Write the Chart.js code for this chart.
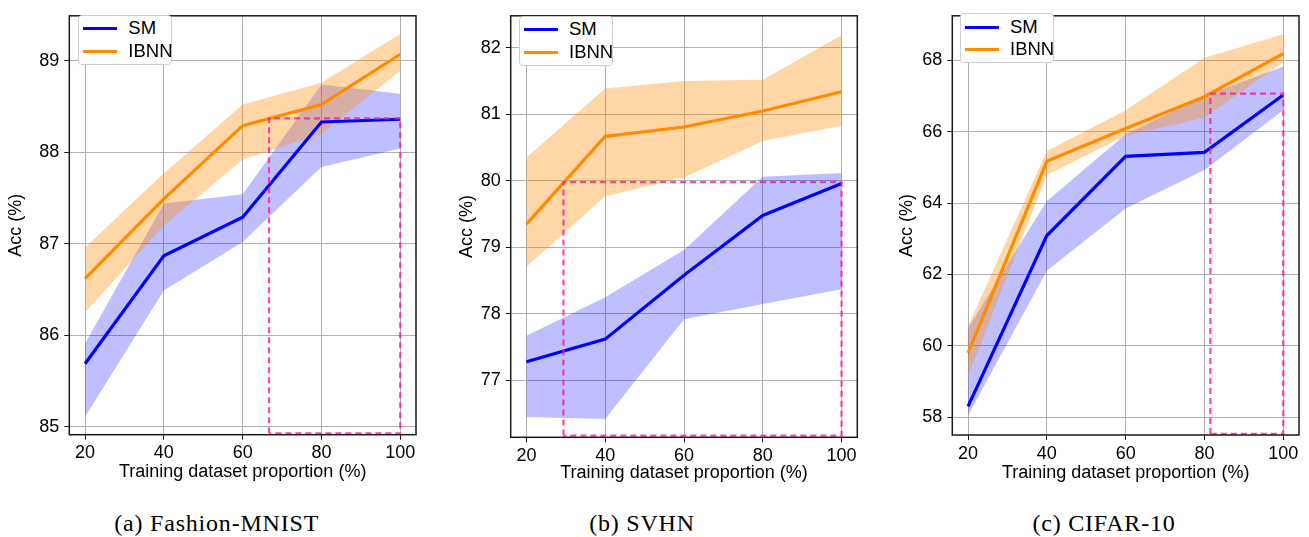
<!DOCTYPE html>
<html>
<head>
<meta charset="utf-8">
<script src="https://cdn.jsdelivr.net/npm/chart.js@4/dist/chart.umd.min.js"></script>
<style>
  body { margin: 0; width: 1309px; height: 537px; background: #fff; position: relative; overflow: hidden; font-family: 'Liberation Sans', Arial, sans-serif; }
  canvas { position: absolute; top: 0; }
  .legend { position: absolute; width: 92px; height: 48px; border: 1px solid #cfcfcf; border-radius: 4px; background: #fff; }
  .legend .row { position: absolute; left: 0; height: 22px; width: 92px; }
  .legend .swatch { position: absolute; left: 4px; width: 34px; height: 3px; top: 10px; }
  .legend .txt { position: absolute; left: 49px; top: 0; font-size: 18.5px; line-height: 22px; color: #000; }
  .caption { position: absolute; top: 508px; width: 300px; text-align: center; font-family: 'Liberation Serif', serif; font-size: 24px; line-height: 30px; letter-spacing: 0.8px; color: #000; }
</style>
</head>
<body>
<canvas id="fm" width="440" height="483" style="left:0px"></canvas>
<canvas id="svhn" width="440" height="484" style="left:440px"></canvas>
<canvas id="cifar" width="439" height="484" style="left:870px"></canvas>

<script>
// training proportions (%)
const proportions = [20, 40, 60, 80, 100];
const xTicks = [20, 40, 60, 80, 100];
const seriesNames = ['SM', 'IBNN'];
const captions = ['(a) Fashion-MNIST', '(b) SVHN', '(c) CIFAR-10'];

// Fashion-MNIST
const fmSM = [85.69, 86.87, 87.29, 88.33, 88.36];
const fmSMLo = [85.11, 86.49, 87.02, 87.84, 88.04];
const fmSMHi = [85.91, 87.44, 87.54, 88.74, 88.64];
const fmIBNN = [86.62, 87.49, 88.29, 88.52, 89.07];
const fmIBNNLo = [86.25, 87.20, 87.92, 88.20, 88.89];
const fmIBNNHi = [86.96, 87.77, 88.52, 88.76, 89.29];
const fmYTicks = [85, 86, 87, 88, 89];
const fmBoxX = [66.7, 100];
const fmBoxY = [84.93, 88.37];

// SVHN
const svSM = [77.28, 77.62, 78.58, 79.48, 79.96];
const svSMLo = [76.45, 76.42, 77.92, 78.15, 78.37];
const svSMHi = [77.67, 78.25, 78.96, 80.06, 80.12];
const svIBNN = [79.35, 80.67, 80.81, 81.05, 81.34];
const svIBNNLo = [78.71, 79.77, 80.05, 80.60, 80.83];
const svIBNNHi = [80.35, 81.39, 81.50, 81.52, 82.19];
const svYTicks = [77, 78, 79, 80, 81, 82];
const svBoxX = [29.4, 100];
const svBoxY = [76.17, 79.98];

// CIFAR-10
const cfSM = [58.30, 63.09, 65.31, 65.42, 67.03];
const cfSMLo = [58.05, 62.10, 63.85, 64.93, 66.60];
const cfSMHi = [60.50, 64.06, 65.93, 67.00, 67.83];
const cfIBNN = [59.80, 65.17, 66.09, 66.98, 68.19];
const cfIBNNLo = [59.14, 64.79, 65.89, 66.39, 67.95];
const cfIBNNHi = [60.55, 65.46, 66.60, 68.07, 68.73];
const cfYTicks = [58, 60, 62, 64, 66, 68];
const cfBoxX = [81.5, 100];
const cfBoxY = [57.53, 67.07];

const blue = '#0000ff';
const orange = '#ff8c00';
const blueBand = 'rgba(0, 0, 255, 0.25)';
const orangeBand = 'rgba(255, 140, 0, 0.35)';
const dashColor = 'rgba(255, 20, 147, 0.78)';
const gridColor = '#b0b0b0';
const tickFont = { family: "'Liberation Sans', Arial, sans-serif", size: 18 };

const framePlugin = {
  id: 'frame',
  afterDatasetsDraw(chart) {
    const { ctx, chartArea: a } = chart;
    ctx.save();
    ctx.strokeStyle = '#1a1a1a';
    ctx.lineWidth = 1.5;
    ctx.strokeRect(a.left, a.top, a.right - a.left, a.bottom - a.top);
    ctx.restore();
  }
};

function drawPanel(id, p) {
  const pts = ys => proportions.map((x, i) => ({ x: x, y: ys[i] }));
  const box = [
    { x: p.boxX[0], y: p.boxY[0] }, { x: p.boxX[0], y: p.boxY[1] },
    { x: p.boxX[1], y: p.boxY[1] }, { x: p.boxX[1], y: p.boxY[0] },
    { x: p.boxX[0], y: p.boxY[0] }
  ];
  const band = (ys, fill, color) => ({
    data: pts(ys), borderWidth: 0, borderColor: 'transparent',
    backgroundColor: color, fill: fill, pointRadius: 0
  });

  new Chart(document.getElementById(id), {
    type: 'line',
    data: {
      datasets: [
        { data: box, borderColor: dashColor, borderWidth: 2.2, borderDash: [6, 4], fill: false, pointRadius: 0, clip: false },
        { label: 'SM', data: pts(p.sm), borderColor: blue, borderWidth: 3.2, fill: false, pointRadius: 0 },
        { label: 'IBNN', data: pts(p.ibnn), borderColor: orange, borderWidth: 3.2, fill: false, pointRadius: 0 },
        band(p.ibnnHi, '+1', orangeBand),
        band(p.ibnnLo, false, 'transparent'),
        band(p.smHi, '+1', blueBand),
        band(p.smLo, false, 'transparent')
      ]
    },
    options: {
      responsive: false,
      animation: false,
      layout: { padding: { left: p.padL, top: p.padT, right: p.padR, bottom: 0 } },
      plugins: { legend: { display: false }, tooltip: { enabled: false } },
      elements: { line: { tension: 0 } },
      scales: {
        x: {
          type: 'linear', min: 16, max: 104,
          afterBuildTicks: s => { s.ticks = xTicks.map(v => ({ value: v })); },
          afterFit: s => { s.height = p.xH; },
          grid: { color: gridColor, lineWidth: 1, tickColor: '#1a1a1a', tickLength: 5 },
          border: { display: false },
          ticks: { font: tickFont, color: '#000', padding: 3, maxRotation: 0, autoSkip: false },
          title: { display: true, text: 'Training dataset proportion (%)', font: tickFont, color: '#000', padding: 0 }
        },
        y: {
          type: 'linear', min: p.yMin, max: p.yMax,
          afterBuildTicks: s => { s.ticks = p.yTicks.map(v => ({ value: v })); },
          afterFit: s => { s.width = p.yW; },
          grid: { color: gridColor, lineWidth: 1, tickColor: '#1a1a1a', tickLength: 5 },
          border: { display: false },
          ticks: { font: tickFont, color: '#000', padding: 5, autoSkip: false },
          title: { display: true, text: 'Acc (%)', font: tickFont, color: '#000', padding: 0 }
        }
      }
    },
    plugins: [framePlugin]
  });
}

drawPanel('fm', {
  sm: fmSM, smLo: fmSMLo, smHi: fmSMHi, ibnn: fmIBNN, ibnnLo: fmIBNNLo, ibnnHi: fmIBNNHi,
  yTicks: fmYTicks, boxX: fmBoxX, boxY: fmBoxY, yMin: 84.915, yMax: 89.49,
  padL: 4.9, padT: 5.3, padR: 24, yW: 64.4, xH: 48.3
});
drawPanel('svhn', {
  sm: svSM, smLo: svSMLo, smHi: svSMHi, ibnn: svIBNN, ibnnLo: svIBNNLo, ibnnHi: svIBNNHi,
  yTicks: svYTicks, boxX: svBoxX, boxY: svBoxY, yMin: 76.144, yMax: 82.482,
  padL: 15.9, padT: 8, padR: 22.7, yW: 54.8, xH: 46.7
});
drawPanel('cifar', {
  sm: cfSM, smLo: cfSMLo, smHi: cfSMHi, ibnn: cfIBNN, ibnnLo: cfIBNNLo, ibnnHi: cfIBNNHi,
  yTicks: cfYTicks, boxX: cfBoxX, boxY: cfBoxY, yMin: 57.499, yMax: 69.249,
  padL: 25.9, padT: 5.3, padR: 10, yW: 56.4, xH: 49
});

// legends inside each panel
const legendPos = [[78.3, 15], [519, 16], [960, 13.3]];
const legendColors = [blue, orange];
legendPos.forEach(([lx, ly]) => {
  const box = document.createElement('div');
  box.className = 'legend';
  box.style.left = lx + 'px';
  box.style.top = ly + 'px';
  seriesNames.forEach((name, i) => {
    const row = document.createElement('div');
    row.className = 'row';
    row.style.top = (1.3 + i * 22.7) + 'px';
    row.innerHTML = '<div class="swatch" style="background:' + legendColors[i] + '"></div><div class="txt">' + name + '</div>';
    box.appendChild(row);
  });
  document.body.appendChild(box);
});

// sub-figure captions
const captionCenters = [216.7, 642, 1104];
captions.forEach((t, i) => {
  const c = document.createElement('div');
  c.className = 'caption';
  c.textContent = t;
  c.style.left = (captionCenters[i] - 150) + 'px';
  document.body.appendChild(c);
});
</script>
</body>
</html>
